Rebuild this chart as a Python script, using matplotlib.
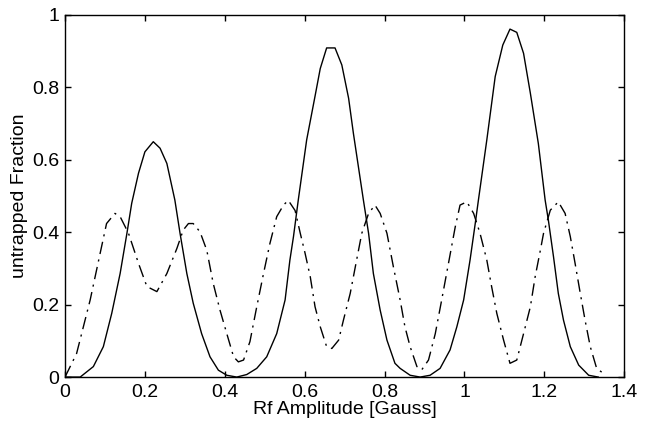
import numpy as np
import matplotlib
matplotlib.use('Agg')
import matplotlib.pyplot as plt
from matplotlib.ticker import FormatStrFormatter

# solid curve
x_solid = [0.0, 0.038, 0.071, 0.096, 0.117, 0.138, 0.155, 0.167, 0.184, 0.2, 0.221,
           0.238, 0.255, 0.275, 0.288, 0.305, 0.321, 0.342, 0.363, 0.384, 0.405, 0.43,
           0.455, 0.48, 0.505, 0.53, 0.551, 0.563, 0.572, 0.584, 0.605, 0.626, 0.639,
           0.655, 0.676, 0.693, 0.71, 0.722, 0.747, 0.76, 0.772, 0.789, 0.806, 0.826,
           0.839, 0.864, 0.889, 0.914, 0.939, 0.964, 0.981, 0.998, 1.014, 1.027, 1.035,
           1.056, 1.077, 1.096, 1.114, 1.131, 1.148, 1.165, 1.185, 1.202, 1.21, 1.223,
           1.235, 1.248, 1.265, 1.286, 1.311, 1.335]
y_solid = [0.0, 0.0, 0.029, 0.084, 0.176, 0.286, 0.397, 0.48, 0.563, 0.622, 0.65,
           0.632, 0.59, 0.489, 0.397, 0.286, 0.204, 0.12, 0.056, 0.019, 0.005, 0.0,
           0.007, 0.024, 0.056, 0.12, 0.213, 0.323, 0.388, 0.489, 0.655, 0.776, 0.852,
           0.909, 0.909, 0.862, 0.77, 0.673, 0.489, 0.397, 0.286, 0.185, 0.102, 0.038,
           0.024, 0.005, 0.0, 0.005, 0.024, 0.075, 0.139, 0.213, 0.323, 0.424, 0.489,
           0.655, 0.83, 0.917, 0.961, 0.952, 0.894, 0.784, 0.645, 0.489, 0.434, 0.332,
           0.231, 0.157, 0.084, 0.033, 0.005, 0.0]

# dash-dot curve
x_dash = [0.0, 0.029, 0.063, 0.088, 0.104, 0.125, 0.138, 0.159, 0.184, 0.205, 0.23,
          0.255, 0.28, 0.296, 0.309, 0.321, 0.338, 0.355, 0.371, 0.388, 0.405, 0.422,
          0.434, 0.447, 0.463, 0.48, 0.497, 0.513, 0.53, 0.547, 0.559, 0.576, 0.589,
          0.601, 0.614, 0.626, 0.639, 0.655, 0.668, 0.685, 0.697, 0.714, 0.73, 0.743,
          0.76, 0.776, 0.789, 0.806, 0.822, 0.839, 0.851, 0.864, 0.881, 0.893, 0.91,
          0.927, 0.943, 0.96, 0.977, 0.989, 1.006, 1.023, 1.039, 1.056, 1.068, 1.081,
          1.098, 1.114, 1.131, 1.148, 1.165, 1.177, 1.19, 1.198, 1.215, 1.235, 1.252,
          1.265, 1.277, 1.29, 1.302, 1.315, 1.331, 1.348]
y_dash = [0.0, 0.065, 0.213, 0.342, 0.424, 0.452, 0.443, 0.397, 0.314, 0.25, 0.236,
          0.286, 0.355, 0.406, 0.424, 0.424, 0.401, 0.35, 0.259, 0.185, 0.12, 0.056,
          0.042, 0.047, 0.098, 0.194, 0.286, 0.369, 0.443, 0.475, 0.488, 0.46, 0.397,
          0.342, 0.277, 0.194, 0.139, 0.084, 0.079, 0.102, 0.157, 0.231, 0.323, 0.397,
          0.452, 0.475, 0.452, 0.397, 0.305, 0.213, 0.139, 0.084, 0.029, 0.02, 0.047,
          0.12, 0.213, 0.314, 0.415, 0.475, 0.484, 0.452, 0.397, 0.323, 0.25, 0.176,
          0.102, 0.038, 0.047, 0.12, 0.194, 0.277, 0.35, 0.397, 0.461, 0.484, 0.452,
          0.388, 0.314, 0.231, 0.157, 0.084, 0.024, 0.01]

plt.rcParams['font.family'] = ['Liberation Sans', 'DejaVu Sans']

fig = plt.figure(figsize=(6.52, 4.28), dpi=100)
ax = fig.add_axes([0.0997, 0.119, 0.8577, 0.846])

ax.plot(x_solid, y_solid, color='black', linewidth=1.0, linestyle='-')
ax.plot(x_dash, y_dash, color='black', linewidth=1.0, linestyle=(0, (9, 4, 1.5, 4)))

ax.set_xlim(0, 1.4)
ax.set_ylim(0, 1)
ax.set_xticks(np.arange(0, 1.41, 0.2))
ax.set_yticks(np.arange(0, 1.01, 0.2))
ax.xaxis.set_major_formatter(FormatStrFormatter('%g'))
ax.yaxis.set_major_formatter(FormatStrFormatter('%g'))
ax.tick_params(direction='in', top=True, right=True, labelsize=14, length=4, width=1)
ax.tick_params(axis='x', pad=5)
ax.tick_params(axis='y', pad=4)
for s in ax.spines.values():
    s.set_linewidth(1.0)

ax.set_xlabel('Rf Amplitude [Gauss]', fontsize=14, labelpad=0)
ax.set_ylabel('untrapped Fraction', fontsize=14, labelpad=3)

plt.savefig('out.png', dpi=100)
